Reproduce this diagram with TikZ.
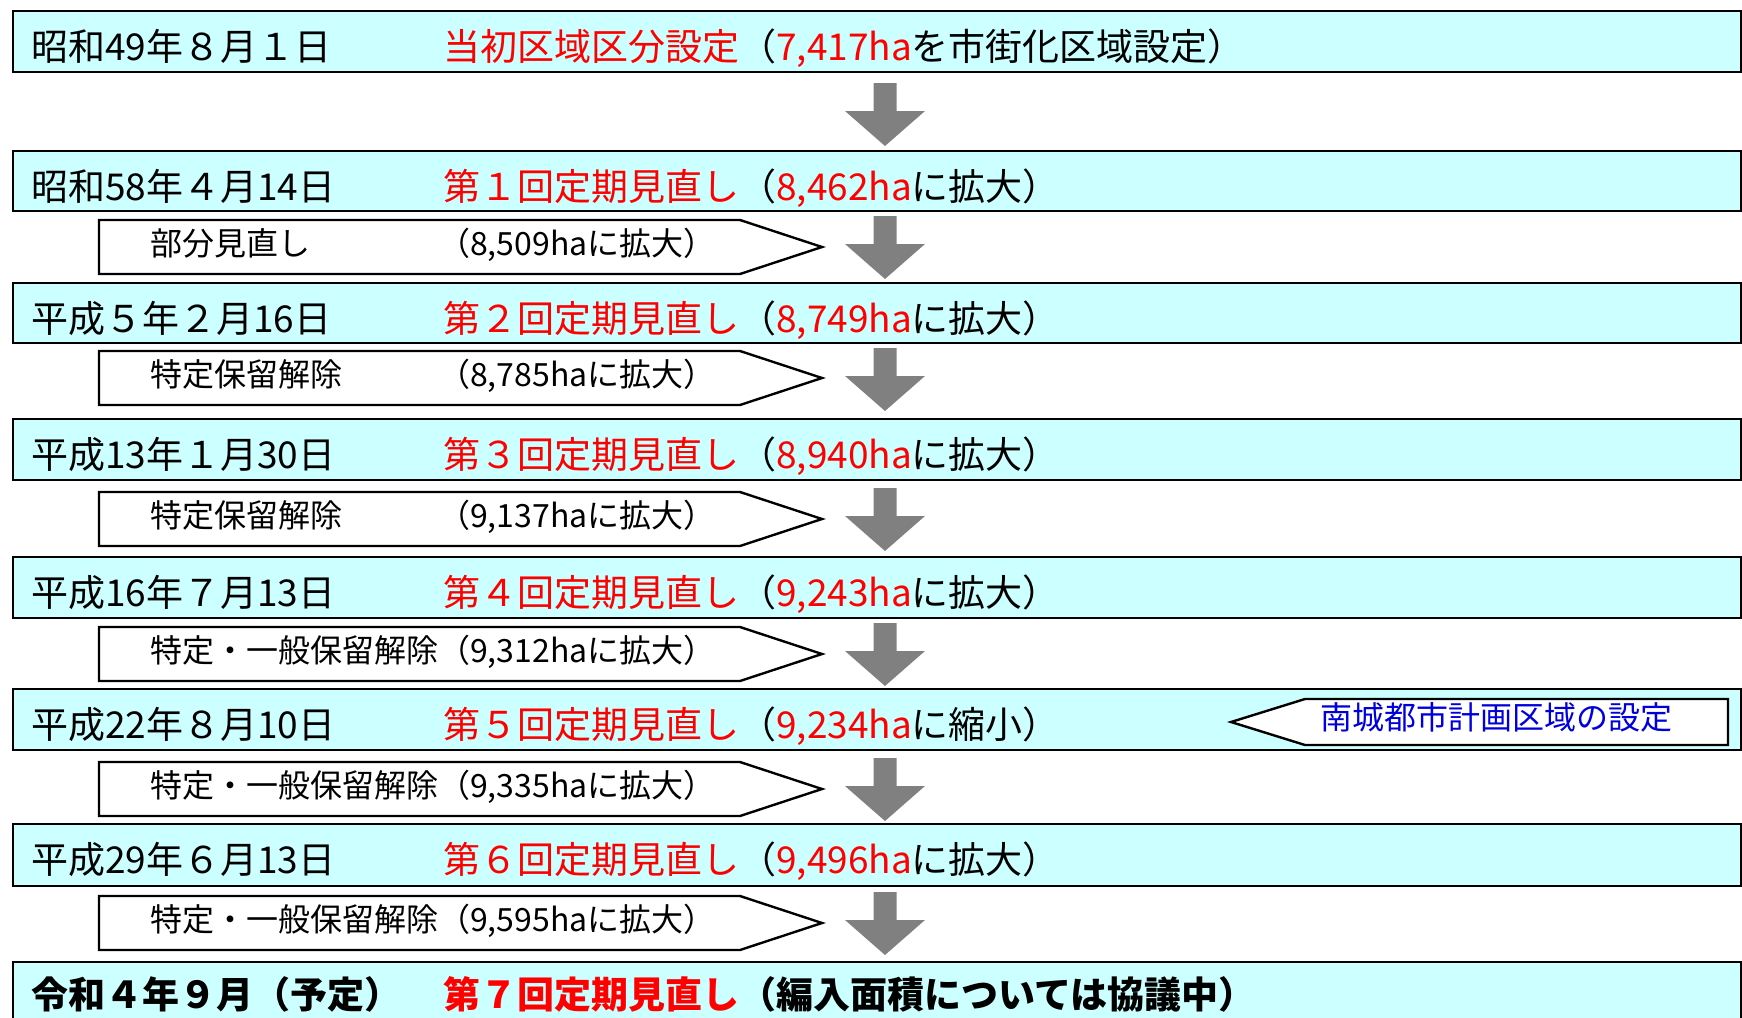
\documentclass[tikz,border=0pt]{standalone}
\usepackage{fontspec}
\setmainfont{Noto Sans CJK JP}
\definecolor{bandcyan}{HTML}{CCFFFF}
\definecolor{arrgray}{HTML}{808080}
\definecolor{callblue}{HTML}{0000DD}
\definecolor{txtred}{HTML}{FF0000}
\newcommand{\rd}[1]{{\color{txtred}#1}}
\begin{document}
\begin{tikzpicture}[x=1pt,y=-1pt,
  band/.style={draw=black, line width=2.6pt, fill=bandcyan, inner sep=0pt, minimum width=1728pt},
  subbox/.style={draw=black, line width=2.4pt, fill=white, line join=miter},
  bandtxt/.style={anchor=base west, inner sep=0pt, font=\fontsize{37}{40}\selectfont},
  subtxt/.style={anchor=base west, inner sep=0pt, font=\fontsize{32}{36}\selectfont},
  downarr/.pic={\fill[arrgray] (-11.5,0) -- (11.5,0) -- (11.5,28) -- (40,28) -- (0,63) -- (-40,28) -- (-11.5,28) -- cycle;}
]
\useasboundingbox (0,0) rectangle (1742,1017);

% ---- bands ----
\node[band, minimum height=61pt] (b1) at (877,41.5) {};
\node[band, minimum height=60pt] (b2) at (877,181) {};
\node[band, minimum height=60pt] (b3) at (877,313) {};
\node[band, minimum height=61pt] (b4) at (877,449.5) {};
\node[band, minimum height=61pt] (b5) at (877,587.5) {};
\node[band, minimum height=61pt] (b6) at (877,719.5) {};
\node[band, minimum height=62pt] (b7) at (877,855) {};
\node[band, minimum height=80pt] (b8) at (877,1002) {};

% ---- band texts ----
\node[bandtxt] (d1) at (31,60.5) {昭和49年８月１日};
\node[bandtxt] (t1) at (443,60.5) {\rd{当初区域区分設定}（\rd{7,417ha}を市街化区域設定）};
\node[bandtxt] (d2) at (31,200.5) {昭和58年４月14日};
\node[bandtxt] (t2) at (443,200.5) {\rd{第１回定期見直し}（\rd{8,462ha}に拡大）};
\node[bandtxt] (d3) at (31,332.5) {平成５年２月16日};
\node[bandtxt] (t3) at (443,332.5) {\rd{第２回定期見直し}（\rd{8,749ha}に拡大）};
\node[bandtxt] (d4) at (31,468.5) {平成13年１月30日};
\node[bandtxt] (t4) at (443,468.5) {\rd{第３回定期見直し}（\rd{8,940ha}に拡大）};
\node[bandtxt] (d5) at (31,606.5) {平成16年７月13日};
\node[bandtxt] (t5) at (443,606.5) {\rd{第４回定期見直し}（\rd{9,243ha}に拡大）};
\node[bandtxt] (d6) at (31,738.5) {平成22年８月10日};
\node[bandtxt] (t6) at (443,738.5) {\rd{第５回定期見直し}（\rd{9,234ha}に縮小）};
\node[bandtxt] (d7) at (31,873.5) {平成29年６月13日};
\node[bandtxt] (t7) at (443,873.5) {\rd{第６回定期見直し}（\rd{9,496ha}に拡大）};
\node[bandtxt, font=\fontsize{37}{40}\selectfont\bfseries] (d8) at (31,1008) {令和４年９月（予定）};
\node[bandtxt, font=\fontsize{37}{40}\selectfont\bfseries] (t8) at (443,1008) {\rd{第７回定期見直し}（編入面積については協議中）};

% ---- sub boxes (pentagons) ----
\foreach \t/\n in {220/1,351/2,492/3,627/4,762/5,896/6}{
  \draw[subbox] (99,\t) -- (740,\t) -- (822,\t+27) -- (740,\t+54) -- (99,\t+54) -- cycle;
  \coordinate (p\n) at (99,\t);
}
\node[subtxt] (s1a) at (150,255) {部分見直し};
\node[subtxt] (s1b) at (438,255) {（8,509haに拡大）};
\node[subtxt] (s2a) at (150,386) {特定保留解除};
\node[subtxt] (s2b) at (438,386) {（8,785haに拡大）};
\node[subtxt] (s3a) at (150,527) {特定保留解除};
\node[subtxt] (s3b) at (438,527) {（9,137haに拡大）};
\node[subtxt] (s4) at (150,662) {特定・一般保留解除（9,312haに拡大）};
\node[subtxt] (s5) at (150,797) {特定・一般保留解除（9,335haに拡大）};
\node[subtxt] (s6) at (150,931) {特定・一般保留解除（9,595haに拡大）};

% ---- callout ----
\draw[subbox] (1231,722) -- (1305,699) -- (1728,699) -- (1728,745) -- (1305,745) -- cycle;
\node[subtxt, text=callblue] (call) at (1320,729.5) {南城都市計画区域の設定};

% ---- arrows ----
\foreach \y/\n in {83/1,216/2,348/3,488/4,623/5,758/6,892/7}{
  \pic (a\n) at (885,\y) {downarr};
}
\end{tikzpicture}
\end{document}
